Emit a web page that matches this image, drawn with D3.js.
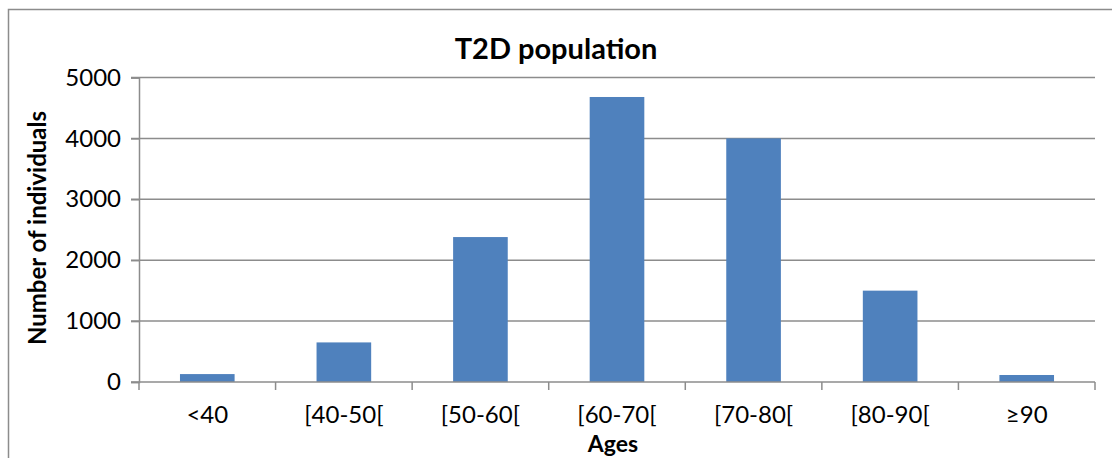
<!DOCTYPE html>
<html>
<head>
<meta charset="utf-8">
<script src="https://cdn.jsdelivr.net/npm/d3@7"></script>
<style>
  html, body { margin: 0; padding: 0; background: #fff; }
  svg { display: block; }
  text { font-family: Lato, "Open Sans", sans-serif; fill: #000; }
</style>
</head>
<body>
<svg id="chart" width="1112" height="458"></svg>
<script>
// Age groups and patient counts
const ageGroups = ["<40", "[40-50[", "[50-60[", "[60-70[", "[70-80[", "[80-90[", "≥90"];
const individuals = [130, 650, 2380, 4680, 4000, 1500, 115];
const yTicks = [0, 1000, 2000, 3000, 4000, 5000];

const svg = d3.select("#chart");
const margin = { left: 139, right: 1095, top: 77.5, bottom: 382 };

// outer frame (runs past the right and bottom edges)
svg.append("rect")
  .attr("x", 8.5).attr("y", 9.5)
  .attr("width", 1120).attr("height", 470)
  .attr("fill", "#fff")
  .attr("stroke", "#8c8c8c")
  .attr("stroke-width", 1.5);

const x = d3.scaleBand()
  .domain(ageGroups)
  .range([margin.left, margin.right])
  .paddingInner(0.6)
  .paddingOuter(0.3);

const y = d3.scaleLinear()
  .domain([0, 5000])
  .range([margin.bottom, margin.top]);

// horizontal gridlines
svg.append("g")
  .selectAll("line")
  .data(yTicks.filter(d => d > 0))
  .join("line")
  .attr("x1", margin.left - 8)
  .attr("x2", margin.right)
  .attr("y1", d => y(d))
  .attr("y2", d => y(d))
  .attr("stroke", "#8c8c8c")
  .attr("stroke-width", 1.5);

// bars
svg.append("g")
  .selectAll("rect")
  .data(ageGroups)
  .join("rect")
  .attr("x", d => x(d))
  .attr("width", x.bandwidth())
  .attr("y", (d, i) => y(individuals[i]))
  .attr("height", (d, i) => y(0) - y(individuals[i]))
  .attr("fill", "#4F81BD");

// y axis
const yAxis = svg.append("g")
  .attr("transform", `translate(${margin.left},0)`)
  .call(d3.axisLeft(y).tickValues(yTicks).tickSize(8).tickPadding(10).tickFormat(d3.format("d")));
yAxis.select(".domain").attr("stroke", "#8c8c8c").attr("stroke-width", 1.5);
yAxis.selectAll(".tick line").attr("stroke", "#8c8c8c").attr("stroke-width", 1.5);
yAxis.selectAll(".tick text")
  .attr("font-family", "Lato, sans-serif")
  .attr("font-size", 24)
  .attr("fill", "#000");

// x axis with category boundary ticks
const xAxisG = svg.append("g").attr("transform", `translate(0,${margin.bottom})`);
xAxisG.append("line")
  .attr("x1", margin.left - 8).attr("x2", margin.right)
  .attr("stroke", "#8c8c8c").attr("stroke-width", 1.5);
const bounds = d3.range(ageGroups.length + 1).map(i => margin.left + i * (margin.right - margin.left) / ageGroups.length);
xAxisG.selectAll(".bt")
  .data(bounds)
  .join("line")
  .attr("class", "bt")
  .attr("x1", d => d).attr("x2", d => d)
  .attr("y1", 0).attr("y2", 8)
  .attr("stroke", "#8c8c8c").attr("stroke-width", 1.5);
xAxisG.selectAll(".lbl")
  .data(ageGroups)
  .join("text")
  .attr("class", "lbl")
  .attr("x", d => x(d) + x.bandwidth() / 2)
  .attr("y", 41)
  .attr("text-anchor", "middle")
  .attr("font-size", 24)
  .text(d => d);

// titles
svg.append("text")
  .attr("x", 556).attr("y", 59)
  .attr("text-anchor", "middle")
  .attr("font-size", 29)
  .attr("font-weight", "bold")
  .text("T2D population");

svg.append("text")
  .attr("transform", "translate(46,228) rotate(-90)")
  .attr("text-anchor", "middle")
  .attr("font-size", 24)
  .attr("font-weight", "bold")
  .text("Number of individuals");

svg.append("text")
  .attr("x", 613).attr("y", 452)
  .attr("text-anchor", "middle")
  .attr("font-size", 23)
  .attr("font-weight", "bold")
  .text("Ages");
</script>
</body>
</html>
